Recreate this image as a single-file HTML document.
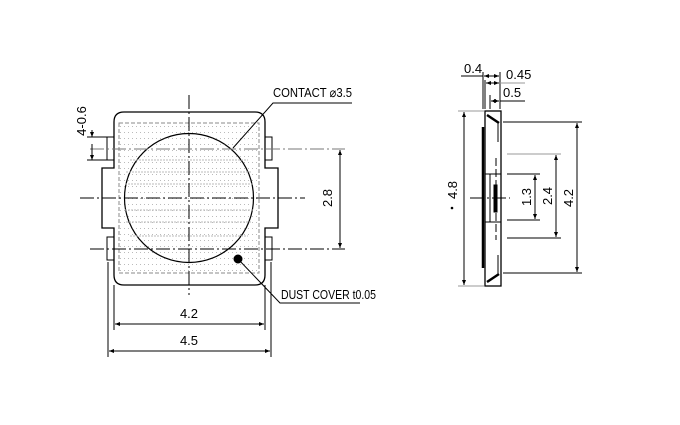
<!DOCTYPE html>
<html><head><meta charset="utf-8"><style>
html,body{margin:0;padding:0;background:#fff;}
svg{display:block;}
text{font-family:"Liberation Sans",sans-serif;font-size:13px;fill:#000;}
</style></head><body>
<svg width="680" height="425" viewBox="0 0 680 425" xmlns="http://www.w3.org/2000/svg">
<defs>
<marker id="a" viewBox="0 0 10 10" refX="10" refY="5" markerWidth="7" markerHeight="5" orient="auto-start-reverse" markerUnits="userSpaceOnUse"><path d="M0,1 L10,5 L0,9z" fill="#000"/></marker>
<pattern id="dots" width="4" height="6" patternUnits="userSpaceOnUse"><rect x="0" y="0" width="1" height="1" fill="#bbb"/></pattern>
</defs>
<g stroke="#000" fill="none" stroke-width="1">
<path d="M124,112 H255 Q265,112 265,122 V168 H278 V228 H265 V275 Q265,285 255,285 H124 Q114,285 114,275 V228 H102 V168 H114 V122 Q114,112 124,112 Z" stroke-width="1.3"/>
<rect x="107" y="137" width="7" height="23"/>
<rect x="107" y="237" width="7" height="23"/>
<rect x="265" y="137" width="7" height="23"/>
<rect x="265" y="237" width="7" height="23"/>
<rect x="119" y="123" width="140" height="150" stroke="#888" stroke-dasharray="4,2" fill="url(#dots)"/>
<circle cx="189" cy="198" r="64.5" fill="#fff" stroke-width="1.2"/>
<circle cx="189" cy="198" r="64" fill="url(#dots)" stroke="none"/>
<g stroke="#bbb" stroke-dasharray="2,1">
<line x1="130" y1="160" x2="248" y2="160"/><line x1="126" y1="172" x2="252" y2="172"/><line x1="125" y1="184" x2="253" y2="184"/><line x1="125" y1="210" x2="253" y2="210"/><line x1="126" y1="222" x2="252" y2="222"/><line x1="130" y1="236" x2="248" y2="236"/>
</g>
<line x1="189" y1="95" x2="189" y2="295" stroke-dasharray="14,3,2,3"/>
<line x1="80" y1="198" x2="305" y2="198" stroke-dasharray="14,3,2,3"/>
<line x1="90" y1="149" x2="345" y2="149" stroke="#777" stroke-dasharray="14,3,2,3"/>
<line x1="90" y1="249" x2="345" y2="249" stroke-dasharray="14,3,2,3"/>
<line x1="340" y1="150" x2="340" y2="248" marker-start="url(#a)" marker-end="url(#a)"/>
<line x1="87" y1="137" x2="107" y2="137"/><line x1="87" y1="160" x2="107" y2="160"/>
<line x1="92" y1="130" x2="92" y2="137" marker-end="url(#a)"/>
<line x1="92" y1="144" x2="92" y2="160" marker-end="url(#a)"/>
<line x1="114" y1="285" x2="114" y2="330"/><line x1="265" y1="285" x2="265" y2="330"/>
<line x1="108" y1="262" x2="108" y2="357"/><line x1="271" y1="262" x2="271" y2="357"/>
<line x1="115" y1="324" x2="264" y2="324" marker-start="url(#a)" marker-end="url(#a)"/>
<line x1="109" y1="351" x2="270" y2="351" marker-start="url(#a)" marker-end="url(#a)"/>
<polyline points="233,148 273,103 352,103"/>
<circle cx="238" cy="259" r="4" fill="#000"/>
<polyline points="238,259 280,303 360,303"/>
<rect x="485" y="111" width="16" height="175" stroke-width="1.3"/>
<line x1="483" y1="127" x2="483" y2="268" stroke-width="2.5"/>
<line x1="485" y1="174" x2="501" y2="174"/><line x1="485" y1="222" x2="501" y2="222"/>
<line x1="490" y1="174" x2="490" y2="222"/>
<rect x="494" y="185" width="3" height="27" fill="#000"/>
<line x1="487" y1="115" x2="499" y2="123" stroke-width="2.5"/>
<line x1="487" y1="282" x2="499" y2="274" stroke-width="2.5"/>
<line x1="498" y1="123" x2="498" y2="142"/><line x1="498" y1="274" x2="498" y2="255"/>
<line x1="496" y1="158" x2="496" y2="240" stroke-dasharray="8,3"/>
<line x1="470" y1="198" x2="510" y2="198" stroke-dasharray="14,3,2,3"/>
<line x1="458" y1="111" x2="484" y2="111" stroke="#999"/><line x1="458" y1="286" x2="484" y2="286" stroke="#999"/>
<line x1="464" y1="112" x2="464" y2="285" marker-start="url(#a)" marker-end="url(#a)"/>
<line x1="503" y1="122" x2="582" y2="122"/><line x1="503" y1="273" x2="582" y2="273"/>
<line x1="577" y1="123" x2="577" y2="272" marker-start="url(#a)" marker-end="url(#a)"/>
<line x1="507" y1="154" x2="561" y2="154" stroke="#999"/><line x1="507" y1="238" x2="561" y2="238"/>
<line x1="556" y1="155" x2="556" y2="237" marker-start="url(#a)" marker-end="url(#a)"/>
<line x1="507" y1="174" x2="540" y2="174"/><line x1="507" y1="220" x2="540" y2="220"/>
<line x1="535" y1="175" x2="535" y2="219" marker-start="url(#a)" marker-end="url(#a)"/>
<line x1="483" y1="72" x2="483" y2="109"/><line x1="485" y1="80" x2="485" y2="109"/>
<line x1="490" y1="95" x2="490" y2="109"/><line x1="500" y1="72" x2="500" y2="109"/>
<line x1="461" y1="76" x2="483" y2="76"/>
<line x1="484" y1="76" x2="499" y2="76" marker-start="url(#a)" marker-end="url(#a)"/>
<line x1="486" y1="83" x2="499" y2="83" marker-start="url(#a)" marker-end="url(#a)"/>
<line x1="500" y1="83" x2="525" y2="83" stroke="#999"/>
<line x1="491" y1="101" x2="499" y2="101" marker-start="url(#a)" marker-end="url(#a)"/>
<line x1="500" y1="101" x2="525" y2="101"/>
</g>
<circle cx="452" cy="208" r="1.3" fill="#000"/>
<text x="273" y="97" textLength="79" lengthAdjust="spacingAndGlyphs">CONTACT ⌀3.5</text>
<text x="281" y="299" textLength="95" lengthAdjust="spacingAndGlyphs">DUST COVER t0.05</text>
<text x="189" y="318" text-anchor="middle">4.2</text>
<text x="189" y="345" text-anchor="middle">4.5</text>
<text transform="translate(332,198) rotate(-90)" text-anchor="middle">2.8</text>
<text transform="translate(86,121) rotate(-90)" text-anchor="middle">4-0.6</text>
<text transform="translate(457,190) rotate(-90)" text-anchor="middle">4.8</text>
<text transform="translate(573,198) rotate(-90)" text-anchor="middle">4.2</text>
<text transform="translate(552,196) rotate(-90)" text-anchor="middle">2.4</text>
<text transform="translate(531,197) rotate(-90)" text-anchor="middle">1.3</text>
<text x="464" y="73">0.4</text>
<text x="506" y="79">0.45</text>
<text x="503" y="97">0.5</text>
</svg>
</body></html>
